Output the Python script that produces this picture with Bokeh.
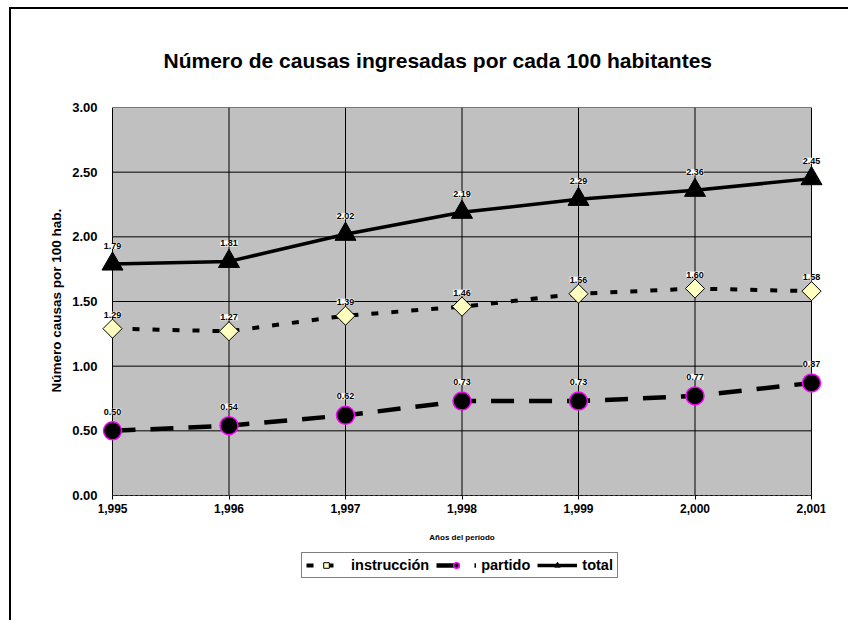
import math
from bokeh.plotting import figure
from bokeh.models import (ColumnDataSource, LabelSet, Legend, LegendItem, FixedTicker,
                          Range1d, BoxAnnotation, Title)
from bokeh.core.properties import value
from bokeh.embed import file_html
from bokeh.resources import INLINE

# ---- data ----
years = [1995, 1996, 1997, 1998, 1999, 2000, 2001]
year_labels = ["1,995", "1,996", "1,997", "1,998", "1,999", "2,000", "2,001"]
instruccion = [1.29, 1.27, 1.39, 1.46, 1.56, 1.60, 1.58]
partido = [0.50, 0.54, 0.62, 0.73, 0.73, 0.77, 0.87]
total = [1.79, 1.81, 2.02, 2.19, 2.29, 2.36, 2.45]
y_ticks = [0.0, 0.5, 1.0, 1.5, 2.0, 2.5, 3.0]
y_tick_labels = ["0.00", "0.50", "1.00", "1.50", "2.00", "2.50", "3.00"]
title_text = "Número de causas ingresadas por cada 100 habitantes"
y_label = "Número causas por 100 hab."
x_label = "Años del período"

FONT = "Liberation Sans"
x0, x1 = years[0], years[-1]
ylo, yhi = y_ticks[0], y_ticks[-1]

# layout geometry (pixels)
W, H = 839, 613
BL, BR, BT, BB = 87, 25, 98, 32
frame_w = W - BL - BR
frame_h = H - BT - BB
pad_px = 14          # room for half markers left/right of the grey area
ext_px = 95          # room below the grey area for axis labels and legend
xpp = (x1 - x0) / (frame_w - 2 * pad_px)
ypp = (yhi - ylo) / (frame_h - ext_px)

p = figure(width=W, height=H, output_backend="svg", toolbar_location=None,
           x_range=Range1d(x0 - pad_px * xpp, x1 + pad_px * xpp),
           y_range=Range1d(ylo - ext_px * ypp, yhi),
           min_border_left=BL, min_border_right=BR, min_border_top=BT, min_border_bottom=BB)
p.styles = {"margin-left": "11px", "margin-top": "9px",
            "box-shadow": "-2px -2px 0px 0px black"}
p.background_fill_color = "white"
p.border_fill_color = "white"
p.outline_line_color = None

# title
p.title.text = title_text
p.title.text_font = FONT
p.title.text_font_size = "21px"
p.title.text_font_style = "bold"
p.title.text_color = "black"
p.title.align = "left"
p.title.vertical_align = "middle"
p.title.offset = 65
p.title.standoff = 70

# grey plot area
p.add_layout(BoxAnnotation(left=x0, right=x1, bottom=ylo, top=yhi,
                           fill_color="#C0C0C0", fill_alpha=1.0, line_color=None,
                           level="underlay"))

# grids (drawn only over the grey area)
p.xgrid.visible = False
p.ygrid.visible = False
p.segment(x0=[x0] * len(y_ticks), x1=[x1] * len(y_ticks), y0=y_ticks, y1=y_ticks,
          line_color="black", line_width=1)
p.segment(x0=years, x1=years, y0=[ylo] * len(years), y1=[yhi] * len(years),
          line_color="black", line_width=1)

# axes
p.xaxis.ticker = FixedTicker(ticks=years)
p.xaxis.major_label_overrides = {y: l for y, l in zip(years, year_labels)}
p.xaxis.bounds = (x0, x1)
p.xaxis.fixed_location = ylo
p.yaxis.ticker = FixedTicker(ticks=y_ticks)
p.yaxis.major_label_overrides = {t: l for t, l in zip(y_ticks, y_tick_labels)}
p.yaxis.bounds = (ylo, yhi)
for ax in (p.xaxis[0], p.yaxis[0]):
    ax.major_label_text_font = FONT
    ax.major_label_text_font_style = "bold"
    ax.major_label_text_color = "black"
    ax.axis_label_text_font = FONT
    ax.axis_label_text_font_style = "bold"
    ax.axis_label_text_color = "black"
    ax.axis_line_color = "#404040"
    ax.axis_line_dash = "3 2"
    ax.major_tick_line_color = "black"
    ax.minor_tick_line_color = None
p.xaxis.major_tick_out = 4
p.xaxis.major_tick_in = 0
p.yaxis.axis_line_color = None
p.yaxis.major_tick_out = 0
p.yaxis.major_tick_in = 0
p.xaxis.major_label_text_font_size = "12px"
p.yaxis.major_label_text_font_size = "13px"
p.xaxis.axis_label = x_label
p.xaxis.axis_label_text_font_size = "8px"
p.xaxis.axis_label_standoff = 17
p.xaxis.major_label_standoff = 4
p.yaxis.major_label_standoff = 1

ytitle = Title(text=y_label, align="left", offset=198, text_font=FONT,
               text_font_size="13.5px", text_font_style="bold", text_color="black",
               standoff=12)
p.add_layout(ytitle, "left")

src = ColumnDataSource(dict(x=years, ins=instruccion, par=partido, tot=total,
                            ins_t=[f"{v:.2f}" for v in instruccion],
                            par_t=[f"{v:.2f}" for v in partido],
                            tot_t=[f"{v:.2f}" for v in total]))

r_ins_l = p.line("x", "ins", source=src, line_color="black", line_width=4, line_dash="7 13")
r_par_l = p.line("x", "par", source=src, line_color="black", line_width=4.5, line_dash="23 15")
r_tot_l = p.line("x", "tot", source=src, line_color="black", line_width=3.5)
r_ins_m = p.scatter("x", "ins", source=src, marker="square", size=13.5, angle=math.pi / 4,
                    fill_color="#FFFFC0", line_color="black", line_width=1)
r_par_m = p.scatter("x", "par", source=src, marker="circle", size=18,
                    fill_color="black", line_color="#FF00FF", line_width=1.5)
r_tot_m = p.scatter("x", "tot", source=src, marker="triangle", size=21,
                    fill_color="black", line_color="black", line_width=1)

for col, off in (("ins", 14), ("par", 19), ("tot", 18)):
    p.add_layout(LabelSet(x="x", y=col, text=col + "_t", source=src, y_offset=off,
                          text_align="center", text_baseline="middle",
                          text_font=value(FONT), text_font_size="9px",
                          text_font_style="bold", text_color="black",
                          background_fill_color="white"))

legend = Legend(items=[LegendItem(label="instrucción", renderers=[r_ins_l, r_ins_m]),
                       LegendItem(label="partido", renderers=[r_par_l, r_par_m]),
                       LegendItem(label="total", renderers=[r_tot_l, r_tot_m])],
                orientation="horizontal", location=(203, 12))
legend.label_text_font = FONT
legend.label_text_font_size = "14.5px"
legend.label_text_font_style = "bold"
legend.label_text_color = "black"
legend.glyph_width = 40
legend.glyph_height = 14
legend.label_standoff = 5
legend.spacing = 7
legend.padding = 4
legend.margin = 0
legend.border_line_color = "black"
legend.border_line_width = 1
legend.background_fill_color = "white"
p.add_layout(legend)

open("out.html", "w").write(file_html(p, INLINE))
